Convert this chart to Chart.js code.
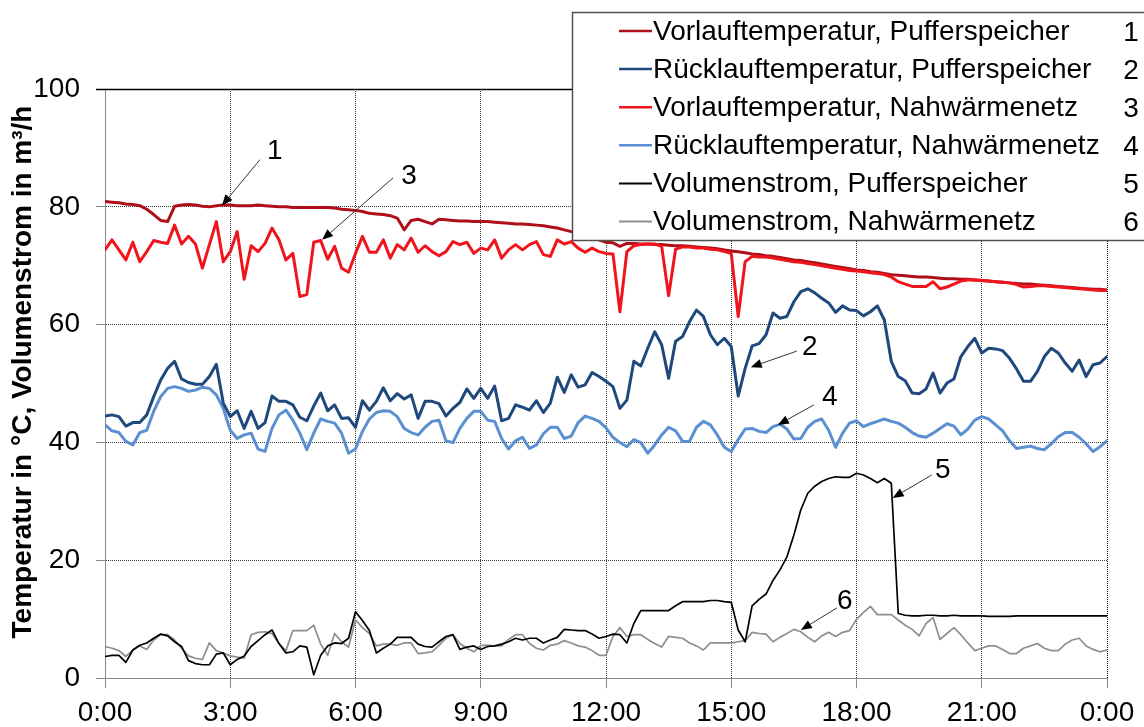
<!DOCTYPE html>
<html><head><meta charset="utf-8">
<script src="https://cdn.jsdelivr.net/npm/chart.js@4.4.1/dist/chart.umd.min.js"></script>
<style>html,body{margin:0;padding:0;background:#fff}canvas{display:block}</style>
</head><body>
<canvas id="c" width="1144" height="727"></canvas>
<script>
const times = [
"0:00","0:10","0:20","0:30","0:40","0:50","1:00","1:10","1:20","1:30","1:40","1:50",
"2:00","2:10","2:20","2:30","2:40","2:50","3:00","3:10","3:20","3:30","3:40","3:50",
"4:00","4:10","4:20","4:30","4:40","4:50","5:00","5:10","5:20","5:30","5:40","5:50",
"6:00","6:10","6:20","6:30","6:40","6:50","7:00","7:10","7:20","7:30","7:40","7:50",
"8:00","8:10","8:20","8:30","8:40","8:50","9:00","9:10","9:20","9:30","9:40","9:50",
"10:00","10:10","10:20","10:30","10:40","10:50","11:00","11:10","11:20","11:30","11:40","11:50",
"12:00","12:10","12:20","12:30","12:40","12:50","13:00","13:10","13:20","13:30","13:40","13:50",
"14:00","14:10","14:20","14:30","14:40","14:50","15:00","15:10","15:20","15:30","15:40","15:50",
"16:00","16:10","16:20","16:30","16:40","16:50","17:00","17:10","17:20","17:30","17:40","17:50",
"18:00","18:10","18:20","18:30","18:40","18:50","19:00","19:10","19:20","19:30","19:40","19:50",
"20:00","20:10","20:20","20:30","20:40","20:50","21:00","21:10","21:20","21:30","21:40","21:50",
"22:00","22:10","22:20","22:30","22:40","22:50","23:00","23:10","23:20","23:30","23:40","23:50",
"24:00"];

const vorlaufPuffer = [
80.9,80.8,80.7,80.5,80.4,80.2,79.6,78.7,77.7,77.5,80.1,80.3,80.4,80.3,80.1,80.0,80.2,80.3,80.3,80.2,
80.2,80.2,80.3,80.2,80.1,80.0,80.0,79.9,79.9,79.9,79.9,79.9,79.9,79.8,79.6,79.5,79.4,
79.2,78.9,78.8,78.7,78.5,78.1,76.1,77.7,77.9,77.5,77.1,77.9,77.8,77.7,77.6,77.6,77.5,77.5,77.5,77.4,
77.3,77.2,77.1,77.1,77.0,76.9,76.8,76.6,76.4,76.1,75.8,75.5,75.2,74.8,74.4,74.0,
73.9,73.3,73.8,73.8,73.7,73.7,73.6,73.6,73.5,73.4,73.4,73.3,73.2,73.1,73.0,72.9,72.7,72.5,72.4,72.2,
72.0,71.9,71.7,71.6,71.4,71.2,71.0,70.9,70.7,70.5,70.3,70.1,69.9,69.7,69.5,69.3,
69.2,69.0,68.9,68.7,68.5,68.4,68.3,68.2,68.1,68.1,68.0,67.9,67.8,67.8,67.7,67.7,67.6,67.5,67.4,67.3,
67.2,67.1,67.0,66.9,66.9,66.8,66.7,66.6,66.5,66.4,66.3,66.2,66.1,66.0,66.0,65.9];

const ruecklaufPuffer = [
44.5,44.7,44.4,42.8,43.4,43.4,44.7,47.8,50.6,52.6,53.8,50.8,50.2,49.9,49.9,51.2,53.3,46.7,44.4,45.4,
42.4,45.3,42.4,43.4,47.9,47.0,47.0,46.4,44.3,43.7,46.2,48.4,45.4,46.4,44.1,44.2,42.6,
47.1,45.5,47.0,49.3,47.1,48.3,47.4,48.1,44.1,47.0,47.0,46.6,44.5,45.8,46.8,49.1,47.5,49.2,47.5,49.6,
43.7,44.1,46.4,46.0,45.5,47.1,45.1,46.7,51.1,48.5,51.5,49.4,49.8,51.9,51.2,50.4,
49.5,45.8,47.2,53.8,53.0,56.0,58.8,56.6,50.9,57.2,58.0,60.5,62.5,61.4,58.3,56.6,57.7,56.3,47.9,52.6,
56.4,56.8,58.3,62.0,61.1,61.4,63.9,65.6,66.1,65.4,64.5,63.7,62.1,63.2,62.5,62.4,
61.5,62.2,63.2,60.8,53.8,51.2,50.5,48.4,48.3,49.1,51.8,48.4,50.1,50.8,54.6,56.3,57.7,55.2,56.0,55.9,
55.6,54.3,52.5,50.4,50.4,52.1,54.6,56.0,55.2,53.5,52.1,54.0,51.2,53.2,53.5,54.6];

const vorlaufNetz = [
72.7,74.4,72.7,71.0,74.0,70.7,72.4,74.3,74.0,73.8,76.9,73.7,75.0,73.7,69.6,73.6,77.5,70.7,72.4,75.8,
67.7,73.4,72.4,73.8,76.4,74.4,71.0,72.1,64.8,65.1,74.0,74.3,71.1,73.3,69.6,68.9,72.1,
75.0,72.3,72.3,74.4,71.3,73.6,72.7,74.7,72.3,73.4,72.4,71.7,72.4,74.1,73.6,74.0,72.1,73.0,72.7,74.4,
71.3,72.7,73.6,72.7,73.6,74.1,71.9,71.6,74.4,73.7,74.1,73.0,72.3,73.0,72.4,72.1,
72.0,62.2,72.4,73.4,73.6,73.7,73.7,73.3,64.9,72.8,73.2,73.2,73.0,73.0,72.8,72.7,72.4,72.1,61.4,70.7,
71.6,71.5,71.5,71.3,71.1,70.9,70.7,70.6,70.4,70.2,70.0,69.8,69.6,69.4,69.2,69.1,
69.0,68.8,68.7,68.5,68.1,67.3,66.9,66.5,66.5,66.5,67.3,66.1,66.4,66.9,67.4,67.6,67.6,67.5,67.4,67.3,
67.2,67.1,66.8,66.4,66.5,66.6,66.6,66.5,66.4,66.3,66.2,66.1,66.0,65.9,65.8,65.8];

const ruecklaufNetz = [
43.0,42.0,41.7,40.2,39.6,41.7,42.1,45.3,47.8,49.2,49.5,49.2,48.7,48.9,49.4,49.2,48.1,45.8,42.1,40.7,
41.3,41.6,38.9,38.5,42.4,44.7,45.5,43.8,41.6,38.8,41.6,44.0,43.6,43.3,41.6,38.2,38.9,
41.9,44.0,45.1,45.4,45.3,44.4,42.4,41.7,41.3,42.6,43.6,43.8,40.3,40.0,42.4,44.1,45.3,45.3,43.8,43.6,
40.7,38.9,40.3,40.9,39.0,39.6,41.5,42.6,42.6,40.7,41.1,43.4,44.5,44.1,43.6,42.5,
40.9,40.0,39.3,40.5,40.0,38.2,39.6,41.3,42.6,42.0,40.2,40.2,42.6,43.6,43.0,41.3,39.2,38.5,40.5,42.3,
42.4,41.9,41.7,42.7,43.1,42.3,40.6,40.7,42.6,43.6,44.0,42.1,39.2,41.6,43.3,43.7,
42.7,43.2,43.6,44.0,43.6,43.3,42.6,41.7,41.1,40.9,41.6,42.4,43.2,42.8,41.3,42.3,43.8,44.4,44.0,43.0,
42.0,40.3,39.0,39.2,39.4,39.0,38.8,39.8,41.0,41.7,41.7,40.9,39.8,38.5,39.3,40.3];

const volumenPuffer = [
3.7,3.9,3.9,2.7,4.8,5.6,6.0,6.8,7.5,7.2,6.2,5.4,3.0,2.5,2.3,2.3,4.1,4.3,2.3,3.2,
3.8,5.4,6.4,7.4,8.2,5.9,4.3,4.5,5.5,5.3,0.6,3.9,5.5,6.0,5.9,6.8,11.3,
9.8,8.1,4.3,5.1,5.8,6.95,6.95,6.95,5.8,5.4,5.3,6.2,7.1,7.4,4.9,5.3,5.5,4.9,5.4,5.5,
5.8,6.2,6.8,6.5,6.8,6.8,6.0,6.5,6.95,8.3,8.2,8.1,8.1,7.5,6.8,7.1,
7.5,7.4,6.0,9.3,11.5,11.5,11.5,11.5,11.5,12.3,13.0,13.0,13.0,13.0,13.2,13.2,13.0,12.9,8.2,6.2,
12.3,13.4,14.3,16.6,18.4,20.6,24.3,28.6,31.4,32.6,33.4,33.9,34.2,34.1,34.1,34.8,
34.5,33.9,33.2,33.9,33.1,11.0,10.7,10.6,10.6,10.7,10.7,10.6,10.6,10.7,10.6,10.6,10.6,10.6,10.5,10.5,
10.5,10.5,10.6,10.6,10.6,10.6,10.6,10.6,10.6,10.6,10.6,10.6,10.6,10.6,10.6,10.6];

const volumenNetz = [
5.4,5.1,4.7,3.7,4.8,5.5,4.9,6.5,7.4,7.4,6.5,5.1,3.8,3.4,3.2,6.0,4.7,4.3,3.8,3.6,
3.4,7.4,7.8,7.9,7.6,5.9,4.7,8.1,8.1,8.1,9.0,5.8,3.9,7.6,6.2,5.3,9.9,
8.6,7.6,5.5,5.8,5.8,5.6,6.0,6.0,4.2,4.3,4.5,5.6,6.8,7.4,5.9,5.1,4.5,5.6,5.6,5.5,
5.5,6.6,7.4,7.4,5.9,5.1,4.8,5.6,5.8,6.4,6.0,5.5,5.3,4.7,3.9,3.9,
7.1,8.6,7.1,7.4,7.4,6.6,5.9,5.3,7.1,6.95,6.8,6.0,5.5,4.8,6.0,6.0,6.0,6.0,6.2,6.4,
7.8,7.6,7.5,6.2,6.95,7.6,8.3,7.9,6.95,6.2,7.2,7.8,7.1,7.8,8.1,10.0,
11.2,12.2,10.8,10.8,10.8,9.9,9.0,8.3,7.2,9.3,10.3,6.6,7.6,8.6,7.4,6.0,4.7,5.1,5.5,5.5,
4.9,4.2,4.2,5.1,5.5,5.9,5.1,4.7,4.7,5.8,6.5,6.8,5.5,4.9,4.5,4.8];

const seriesLabels = [
"Vorlauftemperatur, Pufferspeicher",
"Rücklauftemperatur, Pufferspeicher",
"Vorlauftemperatur, Nahwärmenetz",
"Rücklauftemperatur, Nahwärmenetz",
"Volumenstrom, Pufferspeicher",
"Volumenstrom, Nahwärmenetz"];
const seriesNumbers = ["1","2","3","4","5","6"];
const xTickValues = [0,180,360,540,720,900,1080,1260,1440];
const xTickLabels = ["0:00","3:00","6:00","9:00","12:00","15:00","18:00","21:00","0:00"];
const yTickValues = [0,20,40,60,80,100];
const yTitle = "Temperatur in °C, Volumenstrom in m³/h";

// annotation anchors: time and value at arrow tip
const annoNumbers = ["1","3","2","4","6","5"];
const annoTimes = ["2:48","5:12","15:28","16:07","16:40","18:52"];
const annoValues = [80.2, 74.4, 52.8, 43.0, 8.2, 30.6];

const FONT = '"Liberation Sans", Arial, Helvetica, sans-serif';
const toMin = t => { const p = t.split(':'); return (+p[0]) * 60 + (+p[1]); };
const pts = arr => arr.map((v, i) => ({ x: toMin(times[i]), y: v }));

const colors = ['#AE0F18', '#1F497D', '#F0141C', '#5A8FD2', '#000000', '#8E8E8E'];
const widths = [3, 3, 3, 3, 1.7, 1.7];
const orders = [1, 2, 0, 3, 4, 5];
const allSeries = [vorlaufPuffer, ruecklaufPuffer, vorlaufNetz, ruecklaufNetz, volumenPuffer, volumenNetz];

// layout style (pixel offsets for annotation text/tail relative to arrow tip)
const annoStyle = [
  { tail: [38, -46], text: [53, -54] },
  { tail: [71, -62], text: [87, -64] },
  { tail: [46, -16], text: [59, -20] },
  { tail: [36, -20], text: [52, -28] },
  { tail: [36, -22], text: [44, -29] },
  { tail: [39, -23], text: [50, -28] }
];

const overlay = {
  id: 'overlay',
  afterDraw(chart) {
    const { ctx, chartArea: ca, scales } = chart;
    const xs = scales.x, ys = scales.y;
    ctx.save();
    // solid top line at 100
    const y100 = Math.round(ys.getPixelForValue(100)) + 0.5;
    ctx.strokeStyle = '#000'; ctx.lineWidth = 1.5;
    ctx.beginPath(); ctx.moveTo(ca.left - 9, y100); ctx.lineTo(ca.right, y100); ctx.stroke();

    // y-axis title
    ctx.save();
    ctx.translate(23, 372);
    ctx.rotate(-Math.PI / 2);
    ctx.font = 'bold 28px ' + FONT;
    ctx.fillStyle = '#000';
    ctx.textAlign = 'center'; ctx.textBaseline = 'middle';
    ctx.fillText(yTitle, 0, 0);
    ctx.restore();

    // annotations
    annoNumbers.forEach((n, k) => {
      const tx = xs.getPixelForValue(toMin(annoTimes[k]));
      const ty = ys.getPixelForValue(annoValues[k]);
      const st = annoStyle[k];
      const sx = tx + st.tail[0], sy = ty + st.tail[1];
      const ang = Math.atan2(ty - sy, tx - sx);
      const hl = 11, hw = 4.5;
      const bx = tx - hl * Math.cos(ang), by = ty - hl * Math.sin(ang);
      ctx.strokeStyle = '#333'; ctx.lineWidth = 1;
      ctx.beginPath(); ctx.moveTo(sx, sy); ctx.lineTo(bx, by); ctx.stroke();
      ctx.fillStyle = '#000';
      ctx.beginPath();
      ctx.moveTo(tx, ty);
      ctx.lineTo(bx + hw * Math.sin(ang), by - hw * Math.cos(ang));
      ctx.lineTo(bx - hw * Math.sin(ang), by + hw * Math.cos(ang));
      ctx.closePath(); ctx.fill();
      ctx.font = '28px ' + FONT;
      ctx.textAlign = 'center'; ctx.textBaseline = 'middle';
      ctx.fillText(n, tx + st.text[0], ty + st.text[1]);
    });

    // legend box
    const lx = 572, ly = 12, lw = 620, lh = 228;
    ctx.fillStyle = '#fff';
    ctx.fillRect(lx, ly, lw, lh);
    ctx.strokeStyle = '#505050'; ctx.lineWidth = 1.5;
    ctx.strokeRect(lx + 0.5, ly + 0.5, lw, lh);
    chart.data.datasets.forEach((ds, i) => {
      const ry = 31 + i * 38.1;
      ctx.strokeStyle = ds.borderColor;
      ctx.lineWidth = i < 4 ? 2.5 : 2;
      ctx.beginPath(); ctx.moveTo(619, ry); ctx.lineTo(652, ry); ctx.stroke();
      ctx.fillStyle = '#000';
      ctx.font = '28px ' + FONT;
      ctx.textAlign = 'left'; ctx.textBaseline = 'middle';
      ctx.fillText(ds.label, 653, ry + 1);
      ctx.textAlign = 'center';
      ctx.fillText(seriesNumbers[i], 1131, ry + 2);
    });
    ctx.restore();
  }
};

new Chart(document.getElementById('c'), {
  type: 'line',
  data: {
    datasets: allSeries.map((arr, i) => ({
      label: seriesLabels[i],
      data: pts(arr),
      borderColor: colors[i],
      borderWidth: widths[i],
      pointRadius: 0,
      tension: 0,
      fill: false,
      order: orders[i],
      borderJoinStyle: 'round',
      borderCapStyle: 'round'
    }))
  },
  options: {
    responsive: false,
    animation: false,
    devicePixelRatio: 1,
    parsing: false,
    layout: { padding: { top: 89, right: 37, left: 0, bottom: 0 } },
    plugins: { legend: { display: false }, tooltip: { enabled: false } },
    scales: {
      x: {
        type: 'linear', min: 0, max: 1440,
        afterBuildTicks: s => { s.ticks = xTickValues.map(v => ({ value: v })); },
        ticks: {
          autoSkip: false, maxRotation: 0, padding: 8,
          font: { family: FONT, size: 28 }, color: '#000',
          callback: (v, i) => xTickLabels[i]
        },
        grid: {
          color: c => (c.tick && c.tick.value === 0) ? 'rgba(0,0,0,0)' : (c.tick && c.tick.value === 1440 ? '#000' : '#3c3c3c'),
          lineWidth: 1, tickLength: 10, tickColor: '#8a8a8a', tickWidth: 1, tickBorderDash: []
        },
        border: { display: true, color: '#8a8a8a', width: 1, dash: [1, 1] },
        afterFit: s => { s.height = 48.7; }
      },
      y: {
        min: 0, max: 100,
        afterBuildTicks: s => { s.ticks = yTickValues.map(v => ({ value: v })); },
        ticks: { padding: 16, font: { family: FONT, size: 28 }, color: '#000' },
        grid: {
          color: c => (c.tick && (c.tick.value === 0 || c.tick.value === 100)) ? 'rgba(0,0,0,0)' : '#3c3c3c',
          lineWidth: 1, tickLength: 9, tickColor: '#8a8a8a', tickWidth: 1, tickBorderDash: []
        },
        border: { display: true, color: '#8a8a8a', width: 1, dash: [1, 1] },
        afterFit: s => { s.width = 105; }
      }
    }
  },
  plugins: [overlay]
});
</script>
</body></html>
